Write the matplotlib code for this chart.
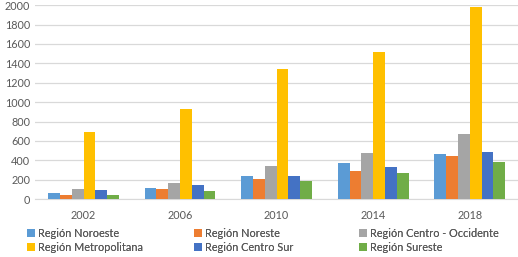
import numpy as np
import matplotlib.pyplot as plt

years = ["2002", "2006", "2010", "2014", "2018"]
regions = ["Región Noroeste", "Región Noreste", "Región Centro - Occidente",
           "Región Metropolitana", "Región Centro Sur", "Región Sureste"]
noroeste = [65, 117, 240, 374, 464]
noreste = [48, 110, 203, 289, 440]
centro_occ = [100, 168, 340, 471, 670]
metropolitana = [690, 930, 1343, 1519, 1983]
centro_sur = [90, 144, 240, 327, 485]
sureste = [48, 82, 189, 265, 381]
series = [noroeste, noreste, centro_occ, metropolitana, centro_sur, sureste]
colors = ["#5B9BD5", "#ED7D31", "#A5A5A5", "#FFC000", "#4472C4", "#70AD47"]

plt.rcParams['font.family'] = ['Lato', 'DejaVu Sans']
fig = plt.figure(figsize=(5.18, 2.57), dpi=100)
ax = fig.add_axes([0.068, 0.225, 0.932, 0.755])

x = np.arange(len(years))
w = 0.122
handles = []
for i, (vals, c) in enumerate(zip(series, colors)):
    h = ax.bar(x + (i - 2.5) * w, vals, w, color=c, label=regions[i], zorder=3)
    handles.append(h)

ax.set_xlim(-0.5, 4.5)
ax.set_ylim(0, 2000)
ax.set_yticks(range(0, 2001, 200))
ax.set_xticks(x)
ax.set_xticklabels(years)
ax.grid(axis='y', color='#D9D9D9', linewidth=0.9, zorder=0)
for s in ['top', 'right', 'left']:
    ax.spines[s].set_visible(False)
ax.spines['bottom'].set_color('#D9D9D9')
ax.tick_params(length=0, labelsize=7.8, colors='#595959')
ax.tick_params(axis='x', pad=8)

# one legend per column, placed where the reference has them
for col, xpos in enumerate([0.042, 0.365, 0.683]):
    idx = [col, col + 3]
    leg = fig.legend([handles[i] for i in idx], [regions[i] for i in idx],
                     loc='lower left', bbox_to_anchor=(xpos, -0.005), ncol=1,
                     frameon=False, fontsize=7.8, handlelength=0.7,
                     handleheight=0.7, handletextpad=0.3, labelspacing=0.3,
                     borderaxespad=0.3, borderpad=0.2, labelcolor='#595959')
    fig.add_artist(leg)

fig.savefig("out.png", dpi=100)
